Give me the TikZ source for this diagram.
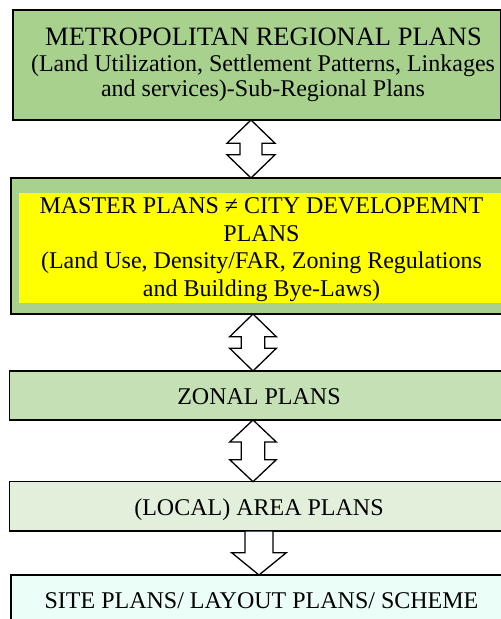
\documentclass[tikz,border=0pt]{standalone}
\usepackage{fontspec}
\setmainfont{Liberation Serif}
\usetikzlibrary{calc}

\definecolor{olivegreen}{HTML}{A9D18E}
\definecolor{palegreen}{HTML}{C5E0B4}
\definecolor{mistgreen}{HTML}{E2EFDA}
\definecolor{mintwhite}{HTML}{EBFEF8}
\definecolor{brightyellow}{HTML}{FFFF00}

\tikzset{
  planbox/.style={draw=black, line width=1.5pt, rectangle, inner sep=0pt, outer sep=0pt},
  innerbox/.style={rectangle, inner sep=0pt, outer sep=0pt},
  plantext/.style={align=center, inner sep=0pt, font=\fontsize{24}{25.5}\selectfont},
  flowarrow/.style={draw=black, fill=white, line width=1.3pt, line join=miter},
}

% double-headed block arrow: top tip, bottom tip, head half width, head height, shaft half width
\newcommand\twowayarrow[5]{%
  \draw[flowarrow] (#1) -- ($(#1)+(-#3,#4)$) -- ($(#1)+(-#5,#4)$)
    -- ($(#2)+(-#5,-#4)$) -- ($(#2)+(-#3,-#4)$) -- (#2)
    -- ($(#2)+(#3,-#4)$) -- ($(#2)+(#5,-#4)$)
    -- ($(#1)+(#5,#4)$) -- ($(#1)+(#3,#4)$) -- cycle;}

% single downward block arrow: shaft top, tip, head half width, head height, shaft half width
\newcommand\onewayarrow[5]{%
  \draw[flowarrow] ($(#1)+(-#5,0)$) -- ($(#2)+(-#5,-#4)$) -- ($(#2)+(-#3,-#4)$)
    -- (#2) -- ($(#2)+(#3,-#4)$) -- ($(#2)+(#5,-#4)$) -- ($(#1)+(#5,0)$) -- cycle;}

\begin{document}
\begin{tikzpicture}[x=1pt, y=-1pt]
  \useasboundingbox (0,0) rectangle (501,619);
  \clip (0,0) rectangle (501,619);

  % plan boxes
  \node[planbox, fill=olivegreen, minimum width=487.5pt, minimum height=110pt] (regional) at (256.75,65) {};
  \node[planbox, fill=olivegreen, minimum width=501pt, minimum height=136pt] (master) at (261.5,246) {};
  \node[innerbox, fill=brightyellow, minimum width=485pt, minimum height=110.3pt] (masterinner) at (261.5,247.85) {};
  \node[planbox, fill=palegreen, minimum width=499.7pt, minimum height=49pt] (zonal) at (259.15,395.5) {};
  \node[planbox, fill=mistgreen, minimum width=499.7pt, minimum height=49.3pt] (area) at (259.15,506.35) {};
  \node[planbox, fill=mintwhite, minimum width=501pt, minimum height=85pt] (site) at (261.5,617.5) {};

  % box texts
  \node[plantext, anchor=base] (regionalhead) at (263.5,45.7)
    {\fontsize{26.5}{26.5}\selectfont METROPOLITAN REGIONAL PLANS};
  \node[plantext, anchor=base] (regionalsub1) at (263,71.7)
    {(Land Utilization, Settlement Patterns, Linkages};
  \node[plantext, anchor=base] (regionalsub2) at (263,96.9)
    {and services)-Sub-Regional Plans};
  \node[plantext, font=\fontsize{24}{27.7}\selectfont] (mastertext) at (261.5,249.5)
    {MASTER PLANS ≠ CITY DEVELOPEMNT\\PLANS\\(Land Use, Density/FAR, Zoning Regulations\\and Building Bye-Laws)};
  \node[plantext, anchor=base] (zonaltext) at (259,404) {ZONAL PLANS};
  \node[plantext, anchor=base] (areatext) at (259,515) {(LOCAL) AREA PLANS};
  \node[plantext, anchor=base] (sitetext) at (261.5,608) {SITE PLANS/ LAYOUT PLANS/ SCHEME};

  % connectors between the levels
  \coordinate (a1top) at (251,0 |- regional.south);
  \coordinate (a1bot) at (251,0 |- master.north);
  \twowayarrow{a1top}{a1bot}{24}{23.2}{11}

  \coordinate (a2top) at (253,0 |- master.south);
  \coordinate (a2bot) at (253,0 |- zonal.north);
  \twowayarrow{a2top}{a2bot}{23.3}{22.7}{11.7}

  \coordinate (a3top) at (253,0 |- zonal.south);
  \coordinate (a3bot) at (253,0 |- area.north);
  \twowayarrow{a3top}{a3bot}{23.3}{22}{11.7}

  \coordinate (a4top) at (259,0 |- area.south);
  \coordinate (a4bot) at (259,0 |- site.north);
  \onewayarrow{a4top}{a4bot}{27.3}{22.3}{14}
\end{tikzpicture}
\end{document}
